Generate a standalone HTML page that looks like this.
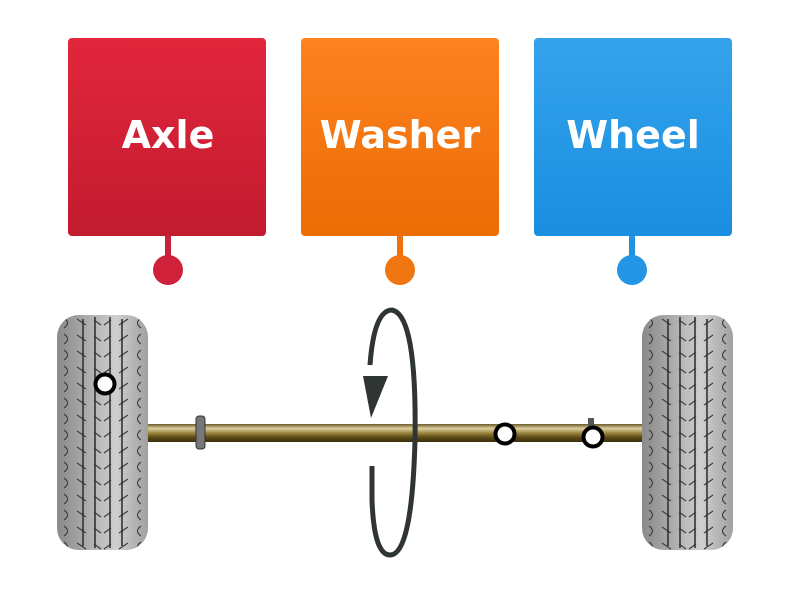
<!DOCTYPE html>
<html><head><meta charset="utf-8"><style>
html,body{margin:0;padding:0;background:#fff;width:800px;height:600px;overflow:hidden}
</style></head><body>
<svg width="800" height="600" viewBox="0 0 800 600" xmlns="http://www.w3.org/2000/svg">
<defs>
<linearGradient id="gr" x1="0" y1="0" x2="0" y2="1"><stop offset="0" stop-color="#e2263c"/><stop offset="1" stop-color="#c21b2f"/></linearGradient>
<linearGradient id="go" x1="0" y1="0" x2="0" y2="1"><stop offset="0" stop-color="#fd8220"/><stop offset="1" stop-color="#ec6c05"/></linearGradient>
<linearGradient id="gb" x1="0" y1="0" x2="0" y2="1"><stop offset="0" stop-color="#34a3ec"/><stop offset="1" stop-color="#1a8ee0"/></linearGradient>
<linearGradient id="ax" x1="0" y1="0" x2="0" y2="1"><stop offset="0" stop-color="#6a5a2a"/><stop offset="0.25" stop-color="#ddd0a0"/><stop offset="0.5" stop-color="#9a8540"/><stop offset="0.75" stop-color="#5a4815"/><stop offset="1" stop-color="#3a2e0c"/></linearGradient>
<linearGradient id="ti" x1="0" y1="0" x2="1" y2="0"><stop offset="0" stop-color="#8a8a8a"/><stop offset="0.3" stop-color="#a8a8a8"/><stop offset="0.65" stop-color="#cfcfcf"/><stop offset="1" stop-color="#a0a0a0"/></linearGradient>
<pattern id="tread" width="91" height="16" patternUnits="userSpaceOnUse">
<path d="M7 3 Q14 8 7 13 M84 3 Q77 8 84 13 M20 4 L29 10 M71 4 L62 10 M37 5 L44 10 M54 5 L47 10" stroke="#3a3a3a" stroke-width="1.1" fill="none"/>
</pattern>
<g id="tire">
<rect x="0" y="0" width="91" height="235" rx="22" fill="url(#ti)"/>
<rect x="0" y="0" width="91" height="235" rx="22" fill="url(#tread)"/>
<line x1="26" y1="4" x2="26" y2="231" stroke="#333" stroke-width="1.6"/>
<line x1="38" y1="2" x2="38" y2="233" stroke="#333" stroke-width="1.6"/>
<line x1="53" y1="2" x2="53" y2="233" stroke="#333" stroke-width="1.6"/>
<line x1="65" y1="4" x2="65" y2="231" stroke="#333" stroke-width="1.6"/>
</g>
</defs>
<g font-family="DejaVu Sans, sans-serif" font-weight="bold" font-size="38" fill="#fff" text-anchor="middle">
<rect x="68" y="38" width="198" height="198" rx="4" fill="url(#gr)"/>
<rect x="165" y="236" width="6" height="30" fill="#c8203a"/><circle cx="168" cy="270" r="15" fill="#d0213a"/>
<text x="168" y="148">Axle</text>
<rect x="301" y="38" width="198" height="198" rx="4" fill="url(#go)"/>
<rect x="397" y="236" width="6" height="30" fill="#ee7010"/><circle cx="400" cy="270" r="15" fill="#f07612"/>
<text x="400" y="148">Washer</text>
<rect x="534" y="38" width="198" height="198" rx="4" fill="url(#gb)"/>
<rect x="629" y="236" width="6" height="30" fill="#1f92e2"/><circle cx="632" cy="270" r="15" fill="#2596e5"/>
<text x="633" y="148">Wheel</text>
</g>
<rect x="146" y="424" width="500" height="18" fill="url(#ax)"/>
<rect x="196" y="416" width="9" height="33" rx="3" fill="#777" stroke="#333" stroke-width="1"/>
<rect x="588" y="418" width="6" height="8" fill="#555"/>
<use href="#tire" x="57" y="315"/>
<use href="#tire" x="642" y="315"/>
<path d="M372 466 L372 500 Q374 555 390 555 Q412 555 415 440 Q417 315 392 310 Q374 310 370 365" stroke="#2f3533" stroke-width="5" fill="none"/>
<path d="M363 376 L388 376 L371 418 Z" fill="#2f3533"/>
<g fill="#fff" stroke="#000" stroke-width="4">
<circle cx="105" cy="384" r="9.5"/>
<circle cx="505" cy="434" r="9.5"/>
<circle cx="593" cy="437" r="9.5"/>
</g>
</svg>
</body></html>
